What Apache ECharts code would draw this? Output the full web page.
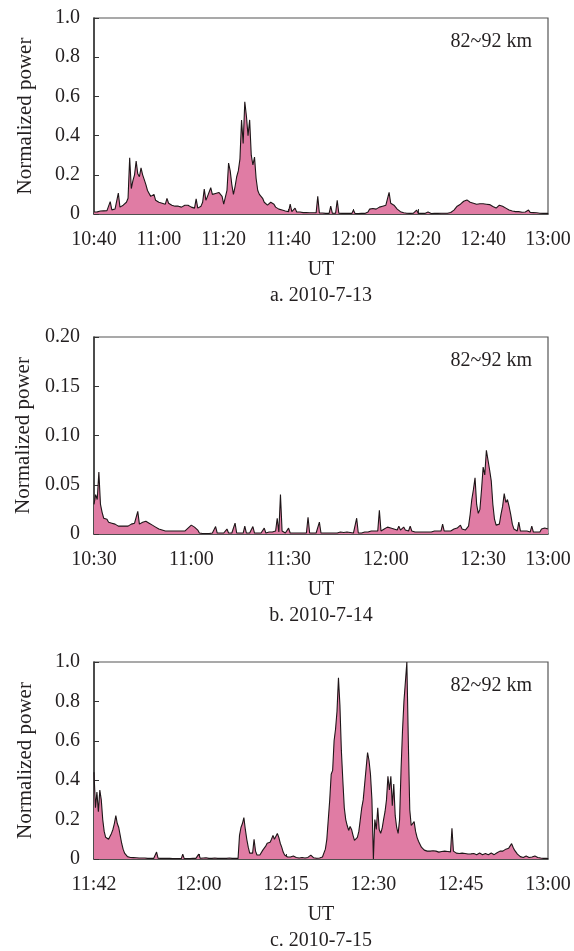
<!DOCTYPE html>
<html>
<head>
<meta charset="utf-8">
<style>
  html, body { margin: 0; padding: 0; background: #fff; }
  #chart { width: 574px; height: 951px; }
</style>
<script src="https://cdn.jsdelivr.net/npm/echarts@6/dist/echarts.min.js"></script>
</head>
<body>
<div id="chart"></div>
<script>
// Normalized echo power, 82~92 km, three days. Time in minutes of the day (UT).

// a. 2010-7-13, one sample every 0.5 min from 10:40
const startA = 640;
const stepA = 0.5;
const powerA = [
  0.010,0.012,0.011,0.013,0.015,0.014,0.016,0.018,0.017,0.020,
  0.063,0.021,0.023,0.026,0.030,0.107,0.035,0.040,0.045,0.050,
  0.060,0.080,0.287,0.130,0.170,0.200,0.270,0.205,0.190,0.235,
  0.200,0.175,0.150,0.120,0.105,0.090,0.080,0.100,0.070,0.065,
  0.060,0.070,0.055,0.060,0.050,0.080,0.055,0.050,0.045,0.040,
  0.040,0.035,0.040,0.030,0.035,0.040,0.045,0.050,0.045,0.040,
  0.035,0.030,0.030,0.077,0.030,0.035,0.040,0.060,0.127,0.070,
  0.090,0.080,0.134,0.100,0.095,0.105,0.100,0.110,0.100,0.090,
  0.050,0.060,0.120,0.260,0.220,0.150,0.100,0.140,0.190,0.220,
  0.280,0.480,0.360,0.573,0.500,0.400,0.480,0.300,0.250,0.290,
  0.180,0.120,0.100,0.090,0.080,0.060,0.050,0.045,0.050,0.060,
  0.065,0.050,0.035,0.030,0.025,0.020,0.020,0.018,0.015,0.015,
  0.012,0.050,0.012,0.010,0.030,0.010,0.008,0.010,0.008,0.007,
  0.006,0.007,0.005,0.006,0.005,0.006,0.005,0.006,0.090,0.005,
  0.004,0.005,0.004,0.003,0.004,0.003,0.040,0.004,0.003,0.004,
  0.070,0.004,0.003,0.003,0.002,0.003,0.002,0.003,0.002,0.003,
  0.020,0.003,0.003,0.002,0.003,0.003,0.004,0.003,0.005,0.010,
  0.025,0.030,0.028,0.020,0.025,0.030,0.035,0.033,0.040,0.045,
  0.045,0.050,0.110,0.055,0.050,0.045,0.035,0.025,0.018,0.012,
  0.008,0.006,0.005,0.004,0.004,0.003,0.003,0.004,0.003,0.020,
  0.003,0.004,0.003,0.002,0.003,0.002,0.010,0.003,0.002,0.003,
  0.003,0.002,0.003,0.003,0.004,0.003,0.004,0.005,0.004,0.005,
  0.008,0.012,0.020,0.030,0.040,0.035,0.050,0.060,0.065,0.070,
  0.072,0.068,0.060,0.062,0.055,0.058,0.050,0.055,0.052,0.050,
  0.052,0.048,0.050,0.045,0.048,0.040,0.038,0.035,0.030,0.040,
  0.045,0.043,0.040,0.035,0.030,0.025,0.020,0.018,0.015,0.013,
  0.012,0.010,0.012,0.010,0.009,0.011,0.010,0.009,0.020,0.008,
  0.008,0.007,0.006,0.006,0.005,0.004,0.004,0.003,0.003,0.003,
  0.003
];
const rangeA = [640, 780];
const ticksA = [640, 660, 680, 700, 720, 740, 760, 780];
const tickLabelsA = ['10:40', '11:00', '11:20', '11:40', '12:00', '12:20', '12:40', '13:00'];

// b. 2010-7-14, one sample every 0.5 min from 10:30
const startB = 630;
const stepB = 0.5;
const powerB = [
  0.030,0.040,0.035,0.063,0.030,0.022,0.016,0.014,0.015,0.012,
  0.013,0.011,0.012,0.010,0.009,0.008,0.009,0.008,0.007,0.008,
  0.009,0.008,0.009,0.010,0.009,0.011,0.009,0.023,0.010,0.011,
  0.012,0.011,0.013,0.012,0.011,0.010,0.009,0.008,0.007,0.006,
  0.005,0.004,0.004,0.003,0.003,0.002,0.003,0.002,0.003,0.004,
  0.003,0.002,0.003,0.004,0.003,0.002,0.003,0.004,0.006,0.007,
  0.009,0.008,0.007,0.006,0.004,0.001,0.001,0.0005,0.001,0.0005,
  0.001,0.0005,0.001,0.001,0.0005,0.0075,0.001,0.0005,0.001,0.0015,
  0.001,0.002,0.005,0.001,0.0015,0.001,0.002,0.011,0.001,0.002,
  0.001,0.002,0.001,0.008,0.001,0.002,0.001,0.0015,0.0075,0.001,
  0.0015,0.001,0.002,0.001,0.002,0.006,0.001,0.0015,0.002,0.001,
  0.002,0.001,0.003,0.016,0.002,0.040,0.003,0.002,0.001,0.002,
  0.006,0.001,0.0015,0.001,0.0005,0.001,0.0005,0.001,0.0005,0.001,
  0.0005,0.001,0.017,0.001,0.0015,0.001,0.002,0.001,0.0015,0.012,
  0.001,0.002,0.001,0.0015,0.001,0.0005,0.001,0.0005,0.001,0.0015,
  0.001,0.0015,0.002,0.001,0.0015,0.001,0.002,0.001,0.0015,0.002,
  0.001,0.002,0.016,0.001,0.002,0.001,0.0015,0.002,0.001,0.002,
  0.002,0.003,0.002,0.003,0.002,0.003,0.024,0.003,0.004,0.005,
  0.006,0.007,0.005,0.006,0.007,0.005,0.006,0.004,0.008,0.004,
  0.005,0.007,0.004,0.003,0.003,0.008,0.003,0.002,0.002,0.003,
  0.002,0.003,0.002,0.001,0.002,0.003,0.002,0.001,0.002,0.002,
  0.003,0.002,0.003,0.002,0.003,0.010,0.003,0.002,0.003,0.004,
  0.003,0.004,0.005,0.004,0.006,0.005,0.009,0.005,0.006,0.004,
  0.006,0.008,0.020,0.035,0.045,0.057,0.030,0.021,0.025,0.045,
  0.068,0.060,0.085,0.075,0.065,0.054,0.030,0.015,0.009,0.008,
  0.010,0.020,0.028,0.041,0.032,0.035,0.028,0.020,0.010,0.005,
  0.004,0.003,0.012,0.003,0.004,0.003,0.002,0.003,0.003,0.002,
  0.008,0.002,0.003,0.002,0.003,0.002,0.005,0.004,0.006,0.008,
  0.005
];
const rangeB = [630, 770];
const ticksB = [630, 660, 690, 720, 750, 770];
const tickLabelsB = ['10:30', '11:00', '11:30', '12:00', '12:30', '13:00'];

// c. 2010-7-15, one sample every 0.25 min from 11:42
const startC = 702;
const stepC = 0.25;
const powerC = [
  0.44,0.26,0.34,0.24,0.35,0.30,0.20,0.14,0.11,0.10,
  0.10,0.11,0.13,0.15,0.18,0.22,0.18,0.16,0.12,0.08,
  0.050,0.030,0.020,0.012,0.010,0.008,0.009,0.007,0.008,0.006,
  0.006,0.005,0.006,0.005,0.004,0.005,0.004,0.003,0.004,0.003,
  0.004,0.003,0.004,0.035,0.004,0.003,0.003,0.002,0.003,0.002,
  0.003,0.002,0.003,0.002,0.002,0.003,0.002,0.003,0.002,0.003,
  0.002,0.025,0.002,0.003,0.002,0.003,0.002,0.003,0.004,0.003,
  0.003,0.004,0.025,0.004,0.003,0.005,0.010,0.006,0.004,0.003,
  0.004,0.003,0.004,0.005,0.004,0.003,0.004,0.003,0.004,0.003,
  0.004,0.003,0.004,0.005,0.004,0.003,0.004,0.003,0.004,0.003,
  0.12,0.16,0.18,0.21,0.15,0.10,0.06,0.03,0.02,0.03,
  0.10,0.04,0.02,0.015,0.02,0.03,0.045,0.055,0.065,0.08,
  0.09,0.085,0.10,0.12,0.10,0.09,0.13,0.11,0.08,0.06,
  0.035,0.02,0.012,0.01,0.012,0.01,0.02,0.015,0.01,0.008,
  0.006,0.005,0.006,0.008,0.007,0.005,0.006,0.008,0.015,0.02,
  0.012,0.006,0.005,0.004,0.006,0.005,0.008,0.01,0.02,0.05,
  0.10,0.20,0.30,0.43,0.45,0.60,0.66,0.75,0.92,0.78,
  0.55,0.40,0.26,0.20,0.17,0.145,0.165,0.15,0.12,0.095,
  0.085,0.11,0.14,0.20,0.26,0.30,0.38,0.46,0.54,0.50,
  0.43,0.30,0.0,0.20,0.15,0.26,0.15,0.13,0.155,0.20,
  0.24,0.30,0.42,0.35,0.42,0.27,0.38,0.22,0.16,0.13,
  0.20,0.45,0.65,0.80,0.90,1.00,0.60,0.25,0.17,0.16,
  0.19,0.14,0.11,0.09,0.075,0.06,0.05,0.045,0.05,0.04,
  0.038,0.04,0.035,0.042,0.038,0.04,0.045,0.035,0.04,0.038,
  0.036,0.04,0.035,0.038,0.034,0.036,0.156,0.04,0.035,0.03,
  0.032,0.028,0.025,0.03,0.026,0.028,0.032,0.025,0.022,0.026,
  0.03,0.028,0.025,0.022,0.027,0.03,0.025,0.022,0.025,0.028,
  0.024,0.022,0.026,0.03,0.025,0.022,0.028,0.032,0.035,0.04,
  0.035,0.04,0.045,0.05,0.05,0.055,0.06,0.078,0.06,0.045,
  0.035,0.025,0.018,0.012,0.01,0.008,0.01,0.015,0.01,0.008,
  0.008,0.01,0.012,0.015,0.01,0.008,0.006,0.005,0.004,0.003,
  0.004,0.003,0.002
];
const rangeC = [702, 780];
const ticksC = [702, 720, 735, 750, 765, 780];
const tickLabelsC = ['11:42', '12:00', '12:15', '12:30', '12:45', '13:00'];

const captions = ['a. 2010-7-13', 'b. 2010-7-14', 'c. 2010-7-15'];
const layerLabel = '82~92 km';

const FONT = '"Liberation Serif", "Times New Roman", Times, serif';
const TEXT = '#231f20';

const panels = [
  { start: startA, step: stepA, power: powerA, range: rangeA, ticks: ticksA, labels: tickLabelsA, yMax: 1, yStep: 0.2, digits: 1, top: 18, height: 196 },
  { start: startB, step: stepB, power: powerB, range: rangeB, ticks: ticksB, labels: tickLabelsB, yMax: 0.2, yStep: 0.05, digits: 2, top: 337, height: 197 },
  { start: startC, step: stepC, power: powerC, range: rangeC, ticks: ticksC, labels: tickLabelsC, yMax: 1, yStep: 0.2, digits: 1, top: 662, height: 197 }
];

const grid = [], xAxis = [], yAxis = [], series = [], graphic = [];

panels.forEach((p, i) => {
  grid.push({
    left: 94, top: p.top, width: 454, height: p.height,
    show: true, borderColor: '#555', borderWidth: 1.2, backgroundColor: 'transparent'
  });
  xAxis.push({
    type: 'value', gridIndex: i, min: p.range[0], max: p.range[1],
    name: 'UT', nameLocation: 'middle', nameGap: 46,
    nameTextStyle: { fontFamily: FONT, fontSize: 20, color: TEXT },
    axisLine: { onZero: false, lineStyle: { color: '#333', width: 1.5 } },
    axisTick: { inside: true, length: 5, lineStyle: { color: '#333' }, customValues: p.ticks.filter(t => t > p.range[0] && t < p.range[1]) },
    axisLabel: {
      margin: 16, fontFamily: FONT, fontSize: 20, color: TEXT,
      customValues: p.ticks,
      formatter: (v) => { const k = p.ticks.indexOf(Math.round(v)); return k >= 0 ? p.labels[k] : ''; }
    },
    splitLine: { show: false }
  });
  yAxis.push({
    type: 'value', gridIndex: i, min: 0, max: p.yMax, interval: p.yStep,
    name: 'Normalized power', nameLocation: 'middle', nameGap: 58, nameRotate: 90,
    nameTextStyle: { fontFamily: FONT, fontSize: 21, color: TEXT },
    axisLine: { show: true, lineStyle: { color: '#333', width: 1.5 } },
    axisTick: { show: true, inside: true, length: 5, lineStyle: { color: '#333' } },
    axisLabel: {
      margin: 14, fontFamily: FONT, fontSize: 20, color: TEXT,
      formatter: (v) => (v === 0 ? '0' : v.toFixed(p.digits))
    },
    splitLine: { show: false }
  });
  series.push({
    type: 'line', xAxisIndex: i, yAxisIndex: i,
    data: p.power.map((v, k) => [p.start + k * p.step, v]),
    showSymbol: false, symbol: 'none',
    lineStyle: { color: '#1e1618', width: 1.1 },
    areaStyle: { color: '#e07ca4', opacity: 1 },
    animation: false
  });
  graphic.push({
    type: 'text', x: 532, y: p.top + 24,
    style: { text: layerLabel, font: '20px ' + FONT, fill: TEXT, align: 'right', verticalAlign: 'middle' }
  });
  graphic.push({
    type: 'text', x: 321, y: p.top + p.height + 82,
    style: { text: captions[i], font: '20px ' + FONT, fill: TEXT, align: 'center', verticalAlign: 'middle' }
  });
});

const chart = echarts.init(document.getElementById('chart'));
chart.setOption({
  animation: false,
  backgroundColor: '#fff',
  grid, xAxis, yAxis, series, graphic
});
</script>
</body>
</html>
